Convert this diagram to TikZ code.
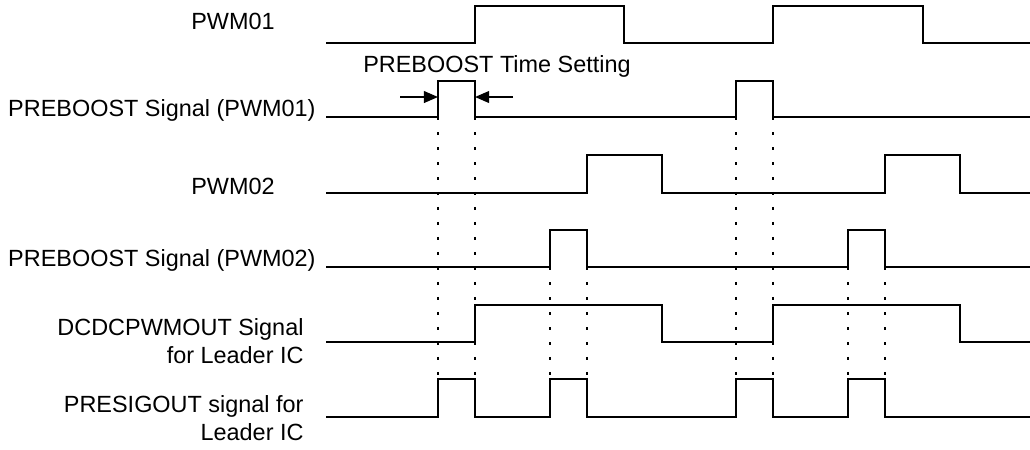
\documentclass[tikz,border=0pt]{standalone}
\usepackage{fontspec}
\setmainfont{Liberation Sans}
\usepackage{tikz}
\usetikzlibrary{arrows.meta}

\tikzset{
  wave/.style={line width=0.7pt, line join=miter},
  guide/.style={line width=1.2pt, dash pattern=on 1.3pt off 5.1pt},
  sig/.style={inner sep=0pt, font=\fontsize{10}{12}\selectfont},
  dim/.style={line width=0.7pt, -{Triangle[length=6pt,width=5pt]}}
}

\begin{document}
\begin{tikzpicture}[x=0.015cm, y=-0.015cm]
  \useasboundingbox (0,0) rectangle (1030,449);

  % signal names
  \node [sig, anchor=base] (pwm1) at (233,29) {PWM01};
  \node [sig, anchor=base east] (pb1) at (316,116) {PREBOOST Signal (PWM01)};
  \node [sig, anchor=base] (pwm2) at (233,194) {PWM02};
  \node [sig, anchor=base east] (pb2) at (316,266) {PREBOOST Signal (PWM02)};
  \node [sig, anchor=east, align=right] (dcdc) at (304,341) {DCDCPWMOUT Signal\\for Leader IC};
  \node [sig, anchor=east, align=right] (presig) at (304,418) {PRESIGOUT signal for\\Leader IC};

  % waveforms
  \draw [wave] (326,43) -| (475,6) -| (624,43) -| (773,6) -| (923,43) -- (1030,43);
  \draw [wave] (326,117) -| (438,81) -| (475,117) -| (736,81) -| (773,117) -- (1030,117);
  \draw [wave] (326,193) -| (587,155) -| (662,193) -| (885,155) -| (960,193) -- (1030,193);
  \draw [wave] (326,267) -| (550,230) -| (587,267) -| (848,230) -| (885,267) -- (1030,267);
  \draw [wave] (326,342) -| (475,305) -| (662,342) -| (773,305) -| (960,342) -- (1030,342);
  \draw [wave] (326,417) -| (438,379) -| (475,417) -| (550,379) -| (587,417)
    -| (736,379) -| (773,417) -| (848,379) -| (885,417) -- (1030,417);

  % timing guides
  \foreach \x in {438,475,736,773}
    \draw [guide] (\x,117) -- (\x,379);
  \foreach \x in {550,587,848,885}
    \draw [guide] (\x,267) -- (\x,379);

  % preboost width
  \node [sig, anchor=base] (tset) at (497,72) {PREBOOST Time Setting};
  \coordinate (rise) at (438,97);
  \coordinate (fall) at (475,97);
  \coordinate (lfree) at (400,97);
  \coordinate (rfree) at (513,97);
  \draw [dim] (lfree) -- (rise);
  \draw [dim] (rfree) -- (fall);
\end{tikzpicture}
\end{document}
